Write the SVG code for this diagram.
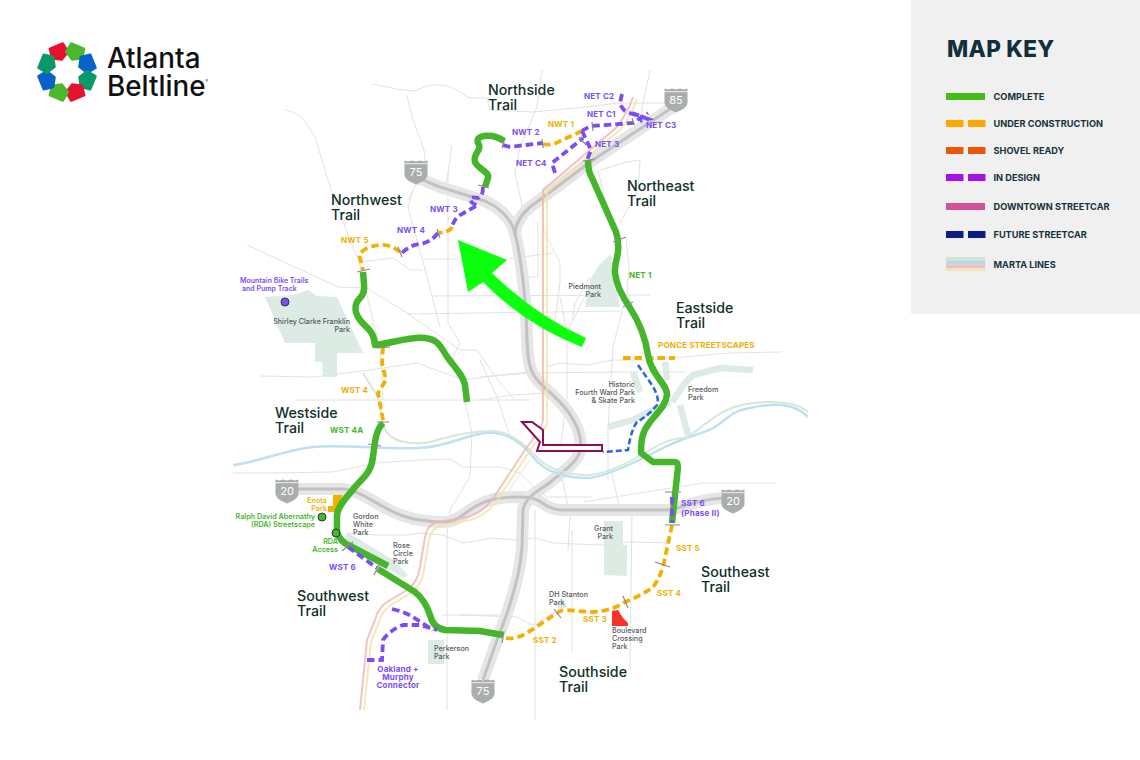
<svg xmlns="http://www.w3.org/2000/svg" width="1140" height="760" viewBox="0 0 1140 760">
<style>
text{font-family:Inter,"Liberation Sans",sans-serif}
.road{fill:none;stroke:#e2e2e2;stroke-width:1;stroke-linejoin:round}
.hw{fill:none;stroke:#e6e6e6;stroke-width:12;stroke-linejoin:round}
.hwi{fill:none;stroke:#c2c2c2;stroke-width:3;stroke-linejoin:round}
.park{fill:#dcebe3}
.parkl{fill:none;stroke:#dcebe3;stroke-width:6.500}
.done{fill:none;stroke:#45b52b;stroke-width:6.500;stroke-linejoin:round}
.uc{fill:none;stroke:#f2b100;stroke-width:3.800;stroke-dasharray:7.500 4}
.des{fill:none;stroke:#7b4df5;stroke-width:3.800;stroke-dasharray:7.500 4}
.tick{stroke:#8a8a8a;stroke-width:1.200;fill:none}
.t{font-size:14.200px;font-weight:500;fill:#10302a}
.l{font-size:8px;font-weight:700;letter-spacing:.2px}
.o{fill:#eeb000}.p{fill:#7b4df5}.g{fill:#45b52b}
.n{font-size:7.200px;font-weight:500;fill:#555a5c}
.np{font-size:7px;font-weight:600;fill:#7b4df5}
.no{font-size:7.200px;font-weight:600;fill:#eeb000}
.ng{font-size:7.200px;font-weight:600;fill:#45b52b}
.k{font-size:9.200px;font-weight:700;fill:#17323c}
.sh{fill:#a9adae}
.st{font-size:11px;fill:#fff;text-anchor:middle}
.e{text-anchor:end}
.d{stroke:#2a3a3a;stroke-width:1}
</style>
<defs>
<path id="petal" d="M-7-28 7-28 8.500-18.500 0-13.500-8.500-18.500Z" stroke-width="2.500" stroke-linejoin="round"/>
<g id="shield"><path class="sh" d="M-11.500-11.500 -8-10.500-4-11.500 0-10.500 4-11.500 8-10.500 11.500-11.500 11.500 3Q11.500 8 0 12.500-11.500 8-11.500 3Z"/><path d="M-11.500-8.300H11.500" stroke="#fff" stroke-width=".8"/></g>
</defs>
<rect width="1140" height="760" fill="#fff"/>
<g id="logo">
<g transform="translate(67 72)">
<use href="#petal" transform="rotate(-22.500)" fill="#e8112d" stroke="#e8112d"/>
<use href="#petal" transform="rotate(22.500)" fill="#4cb82f" stroke="#4cb82f"/>
<use href="#petal" transform="rotate(67.500)" fill="#0a62c9" stroke="#0a62c9"/>
<use href="#petal" transform="rotate(112.500)" fill="#0a9a6a" stroke="#0a9a6a"/>
<use href="#petal" transform="rotate(157.500)" fill="#e8112d" stroke="#e8112d"/>
<use href="#petal" transform="rotate(202.500)" fill="#4cb82f" stroke="#4cb82f"/>
<use href="#petal" transform="rotate(247.500)" fill="#0a62c9" stroke="#0a62c9"/>
<use href="#petal" transform="rotate(292.500)" fill="#0a9a6a" stroke="#0a9a6a"/>
</g>
<text font-size="27.800" font-weight="500" fill="#111"><tspan x="107" y="67.500">Atlanta</tspan><tspan x="107" y="95.500">Beltline</tspan><tspan font-size="4" dy="-14">®</tspan></text>
</g>
<g id="map-key">
<rect x="911" width="229" height="314" fill="#f0f0f0"/>
<text x="947" y="57" font-size="22.500" font-weight="800" letter-spacing=".3" fill="#12303a">MAP KEY</text>
<rect x="946" y="93" width="39" height="7" fill="#45bd15"/>
<rect x="946" y="120" width="17.500" height="7" fill="#ffa800"/><rect x="968" y="120" width="17.500" height="7" fill="#ffa800"/>
<rect x="946" y="147" width="17.500" height="7" fill="#e85808"/><rect x="968" y="147" width="17.500" height="7" fill="#e85808"/>
<rect x="946" y="174" width="17.500" height="7" fill="#a60fe8"/><rect x="968" y="174" width="17.500" height="7" fill="#a60fe8"/>
<rect x="946" y="203" width="39" height="7" fill="#d4509a"/>
<rect x="946" y="231" width="17.500" height="7" fill="#0c1e80"/><rect x="968" y="231" width="17.500" height="7" fill="#0c1e80"/>
<rect x="946" y="257" width="39" height="3.500" fill="#cfe3d3"/><rect x="946" y="260.500" width="39" height="4" fill="#b5d8e8"/><rect x="946" y="264.500" width="39" height="3.500" fill="#ecc0bd"/><rect x="946" y="268" width="39" height="3" fill="#f0e5c0"/>
<text class="k" x="993.500" y="99.500">COMPLETE</text>
<text class="k" x="993.500" y="126.500">UNDER CONSTRUCTION</text>
<text class="k" x="993.500" y="153.500">SHOVEL READY</text>
<text class="k" x="993.500" y="180.500">IN DESIGN</text>
<text class="k" x="993.500" y="209.500">DOWNTOWN STREETCAR</text>
<text class="k" x="993.500" y="237.500">FUTURE STREETCAR</text>
<text class="k" x="993.500" y="267.500">MARTA LINES</text>
</g>
<g id="roads">
<path class="road" d="M372 84 Q390 88 403 90 Q412 92 418 90 Q428 84 440 85 Q452 85 467 97 Q475 99 487 98 L490 110 533 112 587 107 617 103 667 103"/>
<path class="road" d="M407 95 Q410 110 413 120 L424 150 425 163M285 110Q300 113 305 122 Q312 132 315 137 L332 193 360 265 380 350 383 400M452 145 445 193M417 183 408 200"/>
<path class="road" d="M542 70 537 107 520 147 515 173 523 210M650 70 643 103 640 123M600 170 627 162 640 160 638 190 620 223M598 170 610 220M626 237 629 267 627 293 633 310"/>
<path class="road" d="M500 260 553 253M538 222 538 277 520 277M542 227 560 263 560 283 555 320M590 277 575 303 572 320"/>
<path class="road" d="M247 245 338 287 367 288 407 313 460 350 477 350 500 383 515 400"/>
<path class="road" d="M360 262 393 258 410 270 423 270M413 190 408 207 427 277 440 327M448 170 448 323 460 343 453 357 457 377M423 259 457 259 470 250"/>
<path class="road" d="M432 296 650 295M408 314 620 311M260 376 313 377 370 370 417 363 463 380 500 375 530 372M296 400 530 400"/>
<path class="road" d="M233 473 273 473 333 472 377 463 420 460 450 459 463 467 500 467 520 473 537 490 547 497 592 497M465 403 467 410 472 433 470 477 450 510 447 533 447 710M347 533 377 535 407 535 420 533 443 535 463 543 493 538 513 540 535 538 553 543 600 545 630 542 670 543M442 615 500 615M507 493 530 460M562 477 570 517 568 550"/>
<path class="road" d="M535 510 535 720M572 530 572 652M632 512 630 670M460 615 517 617 533 625 555 612M703 483 775 483M583 502 703 483M612 473 620 510"/>
<path class="road" d="M608 480 608 430 613 347 623 307M567 333 560 297M567 333 567 397 560 450M480 377 530 373 620 372 685 372M547 367 560 363 587 365 613 360 647 360 730 353 782 352M480 400 513 395 547 393M480 360 497 397 510 437M567 333 600 265"/>
</g>
<g id="parks">
<path class="park" d="M265 297 293 295 308 290 317 296 337 297 363 353 337 353 337 377 323 377 322 362 315 362 315 343 285 343Z"/>
<path class="park" d="M600 264 611 254 614 270 620 307 585 307 591 278Z"/>
<path class="parkl" d="M753 370 720 368 693 375 685 383 672 402M665 362 667 380M633 372 640 392M608 427 633 420 657 408 670 403M680 405 688 435"/>
<path class="park" d="M604 521 623 521 623 545 627 545 627 576 604 575Z"/>
<path class="park" d="M558 602 563 600 568 607 558 610Z"/>
<path class="park" d="M428 640H444V664H428Z"/>
<path class="park" d="M347 532 393 560 408 575 403 578 345 540Z"/>
<path d="M612 611 618 610 623 618 628 623 628 626 612 626Z" fill="#f8312a"/>
<path d="M333 495 343 495 335 512 328 512 328 506 333 506Z" fill="#f2b100"/>
</g>
<g id="highways">
<path class="hw" d="M673 107 593 160 530 207Q515 220 515 235"/>
<path class="hw" d="M418 178 440 187 485 201Q505 210 513 227C519 245 526 290 527 340 528 365 530 375 545 388S580 420 581 445C581 460 565 470 553 480S526 495 523 510L522 547C520 580 505 620 497 640L483 680"/>
<path class="hw" d="M298 489 343 489C365 490 385 515 420 520S455 520 470 510 495 497 520 497 540 508 560 510L667 510C680 510 690 500 723 498"/>
<path class="hwi" d="M673 107 593 160 530 207Q515 220 515 235"/>
<path class="hwi" d="M418 178 440 187 485 201Q505 210 513 227C519 245 526 290 527 340 528 365 530 375 545 388S580 420 581 445C581 460 565 470 553 480S526 495 523 510L522 547C520 580 505 620 497 640L483 680"/>
<path class="hwi" d="M298 489 343 489C365 490 385 515 420 520S455 520 470 510 495 497 520 497 540 508 560 510L667 510C680 510 690 500 723 498"/>
</g>
<g id="water-transit">
<path fill="none" stroke="#bfe0f0" stroke-width="2.500" d="M233 465C255 463 285 450 313 447S390 450 420 448 465 435 485 433 520 440 533 457 570 478 587 478 640 460 663 448 700 435 713 428 730 412 745 409 790 398 808 417"/>
<path fill="none" stroke="#d6e9d6" stroke-width="2" d="M363 373 378 397 383 423Q386 437 400 441 415 445 430 442 470 430 495 431C515 433 530 450 540 460S570 475 587 475 625 465 650 450 680 440 687 437 710 418 727 410 790 396 808 412"/>
<path fill="none" stroke="#f0b4b0" stroke-width="2" opacity=".8" d="M633 97Q628 112 617 127L543 190 543 420Q542 428 527 447L492 500Q480 515 463 518L437 522Q427 525 425 537L420 567Q418 582 407 590L387 602Q378 608 375 620L367 640 360 710"/>
<path fill="none" stroke="#f7e0a8" stroke-width="2" opacity=".8" d="M637 99Q632 114 621 129L547 192 547 422Q546 430 531 449L496 502Q484 518 465 521L439 526Q431 529 429 540L424 570Q422 585 411 593L391 605Q382 611 379 622L371 642 364 710"/>
</g>
<g id="shields">
<use href="#shield" x="676" y="100"/><text class="st" x="676" y="104">85</text>
<use href="#shield" x="416" y="172"/><text class="st" x="416" y="176">75</text>
<use href="#shield" x="287" y="491"/><text class="st" x="287" y="495">20</text>
<use href="#shield" x="733" y="501"/><text class="st" x="733" y="505">20</text>
<use href="#shield" x="483" y="691"/><text class="st" x="483" y="695">75</text>
</g>
<g id="connectors">
<path fill="#fff" stroke="#8a0f55" stroke-width="2" d="M537 451 602 451 602 445 543 445 543 430 532 422 522 422 540 442Z"/>
<path fill="none" stroke="#2469d9" stroke-width="2.500" stroke-dasharray="6 3" d="M638 365 652 385Q660 398 657 405 648 416 637 422 631 430 628 450L603 452"/>
<path class="uc" d="M623 358 675 358"/>
<path class="done" d="M588 160Q588 172 592 178L616 232Q618 238 618 245C620 252 614 263 615 273S622 296 630 308 645 335 648 355 668 385 667 395 658 412 650 422 641 440 641 453L653 462H674Q678 462 678 467L672 523"/>
<path class="done" d="M504 141C497 136 490 135 484 136S476 140 479 145 472 155 475 162 490 172 488 178L485 187"/>
<path class="done" d="M363 272C364 285 366 292 360 298S354 312 360 320 374 330 375 345C390 344 410 336 425 338S440 347 448 358 463 375 465 385L467 402"/>
<path class="done" d="M383 423C376 430 375 440 373 457S362 478 355 487 338 505 337 515L337 532Q340 542 350 546L388 566"/>
<path class="done" d="M378 569 415 592Q425 600 430 615 433 628 445 630L480 631 503 635"/>
<path class="uc" d="M543 144Q552 146 560 141L582 131"/>
<path class="des" d="M503 145Q510 148 517 146L543 143"/>
<path class="des" d="M582 131Q586 128 592 126L633 123 648 113"/>
<path class="des" d="M582 131 591 150 587 160"/>
<path class="des" d="M622 94 620 103Q622 110 627 112L644 118"/>
<path class="des" d="M632 113 648 119 640 121"/>
<path class="des" d="M555 173 552 163 583 138"/>
<path class="des" d="M483 187Q483 197 478 198 470 196 470 200 473 205 478 205L460 215Q454 219 452 227"/>
<path class="uc" d="M452 227Q450 232 438 233"/>
<path class="des" d="M438 233Q430 243 420 244T402 253"/>
<path class="uc" d="M400 252Q390 244 380 245T364 250 360 258L363 270"/>
<path class="uc" d="M383 347 382 363 386 380 378 393 383 420"/>
<path class="des" d="M348 547 377 568"/>
<path class="des" d="M367 660 382 660 383 640Q390 630 403 625L420 625 437 630"/>
<path class="des" d="M392 609Q405 612 413 617L433 630"/>
<path class="des" d="M672 497 672 523" stroke-width="2.500"/>
<path class="uc" d="M672 525 663 567Q658 582 652 588 640 596 625 602 610 612 590 612L567 610Q560 610 557 613L527 633Q515 640 505 638"/>
<path class="tick" d="M505 138 502 148M542 139 543 148M592 122 593 131M632 118 634 125M579 137 586 145M583 161 595 159M478 185 489 188M613 242 626 237M623 307 633 302M398 247 402 257M437 229 440 238M357 272 370 269M377 348 390 347M377 422 389 422M368 444 381 446M342 551 353 542M374 575 380 563M665 492 681 492M665 525 680 525M655 562 670 567M623 596 628 608M554 609 561 618M504 631 502 643"/>
</g>
<g id="arrow"><path fill="#0cff0c" d="M458 240 507 260 492 273Q535 315 586 338L582 347Q525 325 483 282L468 292Z"/></g>
<g id="markers">
<circle cx="285" cy="302" r="4" fill="#7b4df5" class="d"/>
<circle cx="322" cy="517" r="4" fill="#45b52b" class="d"/>
<circle cx="336" cy="533" r="4" fill="#45b52b" class="d"/>
</g>
<g id="trail-names">
<text class="t" x="488" y="95">Northside</text><text class="t" x="488" y="110">Trail</text>
<text class="t" x="331" y="205">Northwest</text><text class="t" x="331" y="220">Trail</text>
<text class="t" x="627" y="191">Northeast</text><text class="t" x="627" y="206">Trail</text>
<text class="t" x="676" y="313">Eastside</text><text class="t" x="676" y="328">Trail</text>
<text class="t" x="275" y="418">Westside</text><text class="t" x="275" y="433">Trail</text>
<text class="t" x="701" y="577">Southeast</text><text class="t" x="701" y="592">Trail</text>
<text class="t" x="297" y="601">Southwest</text><text class="t" x="297" y="616">Trail</text>
<text class="t" x="559" y="677">Southside</text><text class="t" x="559" y="692">Trail</text>
</g>
<g id="segment-labels">
<text class="l o" x="548" y="127">NWT 1</text>
<text class="l p" x="512" y="135">NWT 2</text>
<text class="l p" x="584" y="99">NET C2</text>
<text class="l p" x="587" y="117">NET C1</text>
<text class="l p" x="646" y="128">NET C3</text>
<text class="l p" x="595" y="147">NET 3</text>
<text class="l p" x="516" y="166">NET C4</text>
<text class="l p" x="430" y="212">NWT 3</text>
<text class="l p" x="397" y="233">NWT 4</text>
<text class="l o" x="341" y="243">NWT 5</text>
<text class="l o" x="341" y="393">WST 4</text>
<text class="l g" x="330" y="433">WST 4A</text>
<text class="l p" x="329" y="570">WST 6</text>
<text class="l g" x="629" y="278">NET 1</text>
<text class="l o" x="658" y="348">PONCE STREETSCAPES</text>
<text class="l p" x="681" y="506">SST 6</text>
<text class="l p" x="681" y="516">(Phase II)</text>
<text class="l o" x="676" y="551">SST 5</text>
<text class="l o" x="657" y="596">SST 4</text>
<text class="l o" x="583" y="622">SST 3</text>
<text class="l o" x="533" y="643">SST 2</text>
<text class="l p" x="398" y="672" text-anchor="middle">Oakland +</text>
<text class="l p" x="398" y="680" text-anchor="middle">Murphy</text>
<text class="l p" x="398" y="688" text-anchor="middle">Connector</text>
<text class="np" x="240" y="283">Mountain Bike Trails</text>
<text class="np" x="242" y="291">and Pump Track</text>
<text class="no e" x="327" y="503">Enota</text>
<text class="no e" x="327" y="510.500">Park</text>
<text class="ng e" x="315" y="519">Ralph David Abernathy</text>
<text class="ng e" x="315" y="527">(RDA) Streetscape</text>
<text class="ng e" x="338" y="544">RDA</text>
<text class="ng e" x="338" y="552">Access</text>
</g>
<g id="park-names">
<text class="n e" x="350" y="324">Shirley Clarke Franklin</text><text class="n e" x="350" y="332">Park</text>
<text class="n" x="353" y="519">Gordon</text><text class="n" x="353" y="527">White</text><text class="n" x="353" y="535">Park</text>
<text class="n" x="393" y="548">Rose</text><text class="n" x="393" y="556">Circle</text><text class="n" x="393" y="564">Park</text>
<text class="n" x="434" y="651">Perkerson</text><text class="n" x="434" y="659">Park</text>
<text class="n e" x="601" y="289">Piedmont</text><text class="n e" x="601" y="297">Park</text>
<text class="n e" x="635" y="387">Historic</text><text class="n e" x="635" y="394.500">Fourth Ward Park</text><text class="n e" x="635" y="402.500">&amp; Skate Park</text>
<text class="n" x="688" y="392">Freedom</text><text class="n" x="688" y="400">Park</text>
<text class="n" x="549" y="597">DH Stanton</text><text class="n" x="549" y="604.500">Park</text>
<text class="n e" x="613" y="531">Grant</text><text class="n e" x="613" y="538.500">Park</text>
<text class="n" x="612" y="633">Boulevard</text><text class="n" x="612" y="641">Crossing</text><text class="n" x="612" y="649">Park</text>
</g>
</svg>
